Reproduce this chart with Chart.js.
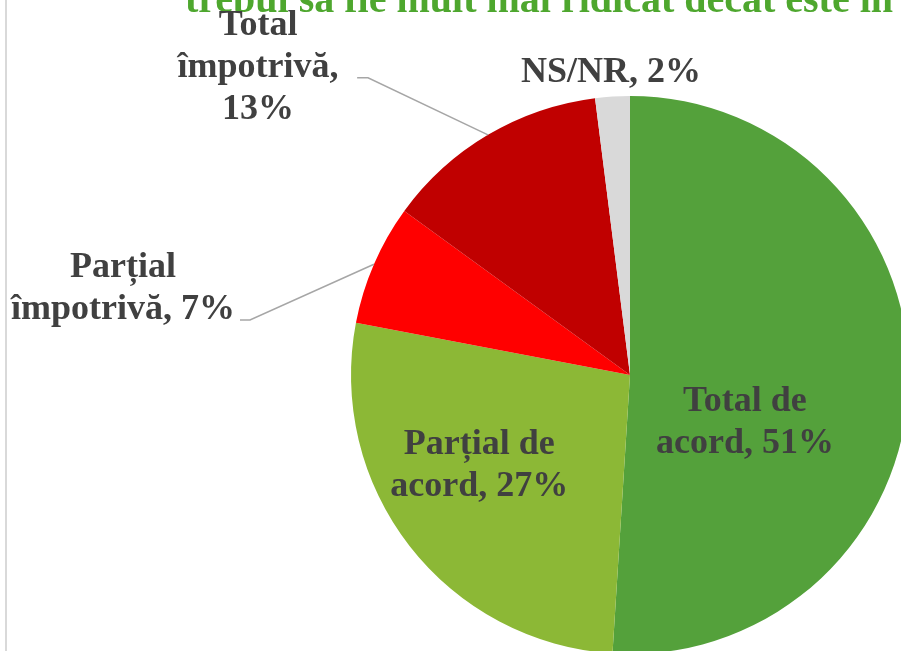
<!DOCTYPE html>
<html lang="ro">
<head>
    <meta charset="UTF-8">
    <title>pie chart</title>
    <script src="https://cdn.jsdelivr.net/npm/chart.js@4.4.0/dist/chart.umd.min.js"></script>
    <style>
        body{
            margin: 0;
            background: #fff;
            overflow: hidden;
        }
        .wrap{
            position: relative;
            width: 901px;
            height: 651px;
            overflow: hidden;
            border-left: 2px solid #d9d9d9;
            margin-left: 5px;
            box-sizing: border-box;
        }
        #canvas{
            position: absolute;
            left: -7px;
            top: 0;
        }
    </style>
</head>
<body>
    <div class="wrap">
        <canvas id="canvas" width="920" height="670"></canvas>
    </div>

<script>
    // date
    const categories = ['Total de acord', 'Parțial de acord', 'Parțial împotrivă', 'Total împotrivă', 'NS/NR'];
    const values = [51, 27, 7, 13, 2];
    const colors = ['#54a13b', '#8cb836', '#ff0000', '#c00000', '#d9d9d9'];
    const titleText = 'trebui să fie mult mai ridicat decât este în prezent';

    // label text lines, and where each label sits relative to the pie centre (radius units)
    const labelLines = [
        ['Total de', 'acord, 51%'],
        ['Parțial de', 'acord, 27%'],
        ['Parțial', 'împotrivă, 7%'],
        ['Total', 'împotrivă,', '13%'],
        ['NS/NR, 2%']
    ];
    const labelPos = [
        {dx: 0.412, dy: 0.172},
        {dx: -0.54, dy: 0.326},
        {dx: -1.817, dy: -0.31, leader: {elbow: -1.362, end: -1.398, y: -0.197}},
        {dx: -1.333, dy: -1.10, leader: {elbow: -0.939, end: -0.978, y: -1.065}},
        {dx: -0.068, dy: -1.082}
    ];

    const labelPlugin = {
        id: 'labelPlugin',
        afterDraw(chart){
            const ctx = chart.ctx;
            const meta = chart.getDatasetMeta(0);
            ctx.save();
            // title, cut off by the top edge
            ctx.fillStyle = '#4ea72e';
            ctx.font = 'bold 40px "Liberation Serif"';
            ctx.textAlign = 'left';
            ctx.textBaseline = 'alphabetic';
            ctx.fillText(titleText, 185, 12);

            ctx.font = 'bold 36px "Liberation Serif"';
            ctx.textAlign = 'center';
            ctx.textBaseline = 'middle';
            const lh = 42;
            meta.data.forEach(function(arc, i){
                const p = arc.getProps(['x', 'y', 'startAngle', 'endAngle', 'outerRadius']);
                const r = p.outerRadius;
                const pos = labelPos[i];
                if(pos.leader){
                    const mid = (p.startAngle + p.endAngle) / 2;
                    ctx.strokeStyle = '#a6a6a6';
                    ctx.lineWidth = 1.5;
                    ctx.beginPath();
                    ctx.moveTo(p.x + Math.cos(mid) * r, p.y + Math.sin(mid) * r);
                    ctx.lineTo(p.x + pos.leader.elbow * r, p.y + pos.leader.y * r);
                    ctx.lineTo(p.x + pos.leader.end * r, p.y + pos.leader.y * r);
                    ctx.stroke();
                }
                ctx.fillStyle = '#404040';
                const lines = labelLines[i];
                const lx = p.x + pos.dx * r;
                const top = p.y + pos.dy * r - (lines.length - 1) * lh / 2;
                lines.forEach(function(t, k){
                    ctx.fillText(t, lx, top + k * lh);
                });
            });
            ctx.restore();
        }
    };

    const ctx = document.getElementById('canvas').getContext('2d');
    const myChart = new Chart(ctx, {
        type: 'pie',
        data: {
            labels: categories,
            datasets: [{
                data: values,
                backgroundColor: colors,
                borderWidth: 0
            }]
        },
        options: {
            responsive: false,
            animation: false,
            devicePixelRatio: 1,
            layout: {
                padding: {left: 351, top: 96, right: 11, bottom: 16}
            },
            plugins: {
                legend: {display: false},
                tooltip: {enabled: false}
            }
        },
        plugins: [labelPlugin]
    });
</script>
</body>
</html>
